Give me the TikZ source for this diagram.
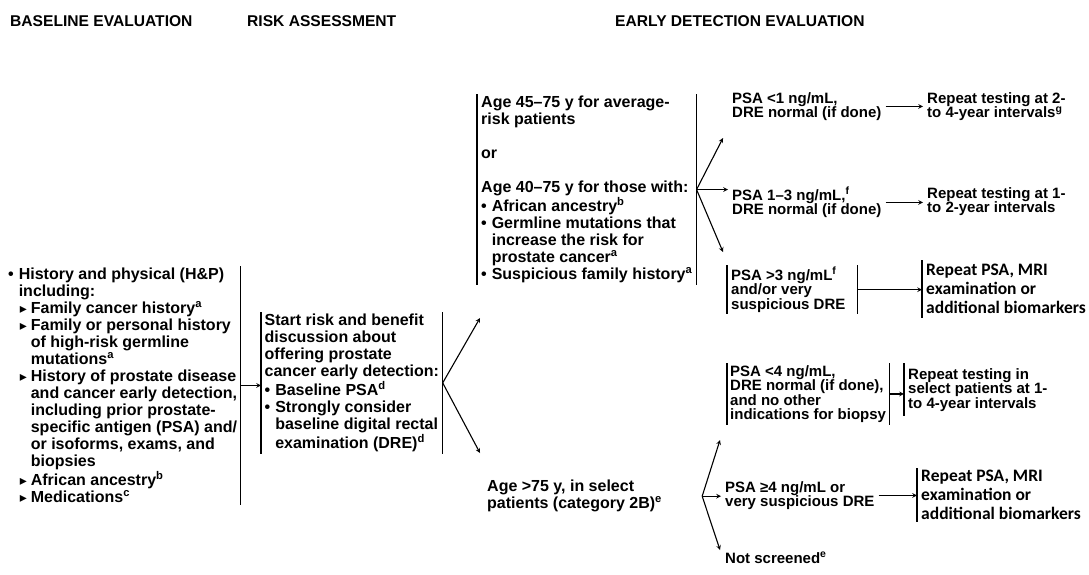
\documentclass[tikz,border=0pt]{standalone}
\usepackage{fontspec}
\setmainfont{Liberation Sans}
\newfontfamily\calfont{Carlito}
\newfontfamily\symfont{DejaVu Sans}
\usetikzlibrary{arrows}

\newcommand{\bul}{\textbullet\hspace{5pt}}
\newcommand{\ind}{\hphantom{\textbullet\hspace{5pt}}}
\newcommand{\tri}{\hspace{1pt}\raisebox{0.5pt}{\symfont\fontsize{14}{14}\selectfont ▸}\hspace{4pt}}
\newcommand{\tind}{\hphantom{\tri}}

\begin{document}
\begin{tikzpicture}[x=1pt, y=-1pt]
	\tikzstyle{head} = [anchor=west, inner sep=0pt, font=\fontsize{15.6}{18}\selectfont\bfseries]
	\tikzstyle{block} = [anchor=north west, align=left, inner xsep=4pt, inner ysep=2pt, font=\fontsize{16}{17}\selectfont\bfseries]
	\tikzstyle{small} = [block, font=\fontsize{15}{14.5}\selectfont\bfseries]
	\tikzstyle{calb} = [block, font=\calfont\fontsize{17.5}{19}\selectfont\bfseries]
	\tikzstyle{rule} = [line width=1.1pt]
	\tikzstyle{arrow} = [line width=1.1pt,->,>=stealth]
	\useasboundingbox (0,0) rectangle (1089,574);
	% column headings
	\node (hBase) [head] at (10,21) {BASELINE EVALUATION};
	\node (hRisk) [head] at (247,21) {RISK ASSESSMENT};
	\node (hEarly) [head] at (615,21) {EARLY DETECTION EVALUATION};
	% baseline and risk
	\node (hp) [block, inner xsep=3pt] at (5,266) {\bul History and physical (H\&P)\\
		\ind including:\\
		\ind\tri Family cancer history\textsuperscript{a}\\
		\ind\tri Family or personal history\\
		\ind\tind of high-risk germline\\
		\ind\tind mutations\textsuperscript{a}\\
		\ind\tri History of prostate disease\\
		\ind\tind and cancer early detection,\\
		\ind\tind including prior prostate-\\
		\ind\tind specific antigen (PSA) and/\\
		\ind\tind or isoforms, exams, and\\
		\ind\tind biopsies\\
		\ind\tri African ancestry\textsuperscript{b}\\
		\ind\tri Medications\textsuperscript{c}};
	\node (risk) [block, inner xsep=3.5pt] at (261,312) {Start risk and benefit\\
		discussion about\\
		offering prostate\\
		cancer early detection:\\
		\bul Baseline PSA\textsuperscript{d}\\
		\bul Strongly consider\\
		\ind baseline digital rectal\\
		\ind examination (DRE)\textsuperscript{d}};
	% age groups
	\node (ageA) [block] at (477,94) {Age 45–75 y for average-\\
		risk patients\\[17pt]
		or\\[17pt]
		Age 40–75 y for those with:\\
		\bul African ancestry\textsuperscript{b}\\
		\bul Germline mutations that\\
		\ind increase the risk for\\
		\ind prostate cancer\textsuperscript{a}\\
		\bul Suspicious family history\textsuperscript{a}};
	\node (ageB) [block] at (483,478) {Age >75 y, in select\\
		patients (category 2B)\textsuperscript{e}};
	% results, age 40/45-75
	\node (psa1) [small] at (728,90) {PSA <1 ng/mL,\\DRE normal (if done)};
	\node (rep1) [small] at (923,90) {Repeat testing at 2-\\to 4-year intervals\textsuperscript{g}};
	\node (psa13) [small] at (728,185) {PSA 1–3 ng/mL,\textsuperscript{f}\\DRE normal (if done)};
	\node (rep2) [small] at (923,185) {Repeat testing at 1-\\to 2-year intervals};
	\node (psa3) [small, text width=122pt, align=flush left] at (727,265) {PSA >3 ng/mL\textsuperscript{f}\\and/or very\\suspicious DRE};
	\node (rep3) [calb, inner ysep=4pt] at (922,260) {Repeat PSA, MRI\\examination or\\additional biomarkers};
	% results, age >75
	\node (psa4lo) [small, inner xsep=3pt] at (727,363) {PSA <4 ng/mL,\\DRE normal (if done),\\and no other\\indications for biopsy};
	\node (rep4) [small, inner ysep=5pt] at (904,363) {Repeat testing in\\select patients at 1-\\to 4-year intervals};
	\node (psa4hi) [small] at (721,479) {PSA ≥4 ng/mL or\\very suspicious DRE};
	\node (rep5) [calb] at (917,468) {Repeat PSA, MRI\\examination or\\additional biomarkers};
	\node (notScr) [small] at (721,550) {Not screened\textsuperscript{e}};
	% free arrow ends
	\coordinate (upIn) at (480,318);
	\coordinate (downIn) at (480,453);
	\coordinate (a1) at (723,138);
	\coordinate (a3) at (723,252);
	\coordinate (forkB) at ([xshift=36pt]ageB.east);
	\coordinate (b1) at (720,440);
	\coordinate (b3) at (720,550);
	% bracket lines
	\draw [rule] (hp.north east) -- (hp.south east);
	\draw [rule] (risk.north west) -- (risk.south west);
	\draw [rule] (risk.north east) -- (risk.south east);
	\draw [rule] (ageA.north west) -- (ageA.south west);
	\draw [rule] (ageA.north east) -- (ageA.south east);
	\draw [rule] (psa3.north west) -- (psa3.south west);
	\draw [rule] (psa3.north east) -- (psa3.south east);
	\draw [rule] (rep3.north west) -- (rep3.south west);
	\draw [rule] (psa4lo.north west) -- (psa4lo.south west);
	\draw [rule] (psa4lo.north east) -- (psa4lo.south east);
	\draw [rule] (rep4.north west) -- (rep4.south west);
	\draw [rule] (rep5.north west) -- (rep5.south west);
	% arrows
	\draw [arrow] (hp.east) -- (hp.east -| risk.west);
	\draw [arrow] (risk.east) -- (upIn);
	\draw [arrow] (risk.east) -- (downIn);
	\draw [arrow] (ageA.east) -- (a1);
	\draw [arrow] (ageA.east) -- (ageA.east -| psa13.west);
	\draw [arrow] (ageA.east) -- (a3);
	\draw [arrow] (psa1.east) -- (psa1.east -| rep1.west);
	\draw [arrow] (psa13.east) -- (psa13.east -| rep2.west);
	\draw [arrow] (psa3.east) -- (psa3.east -| rep3.west);
	\draw [arrow] (forkB) -- (b1);
	\draw [arrow] (forkB) -- (forkB -| psa4hi.west);
	\draw [arrow] (forkB) -- (b3);
	\draw [arrow] (psa4lo.east) -- (psa4lo.east -| rep4.west);
	\draw [arrow] (psa4hi.east) -- (psa4hi.east -| rep5.west);
\end{tikzpicture}
\end{document}
